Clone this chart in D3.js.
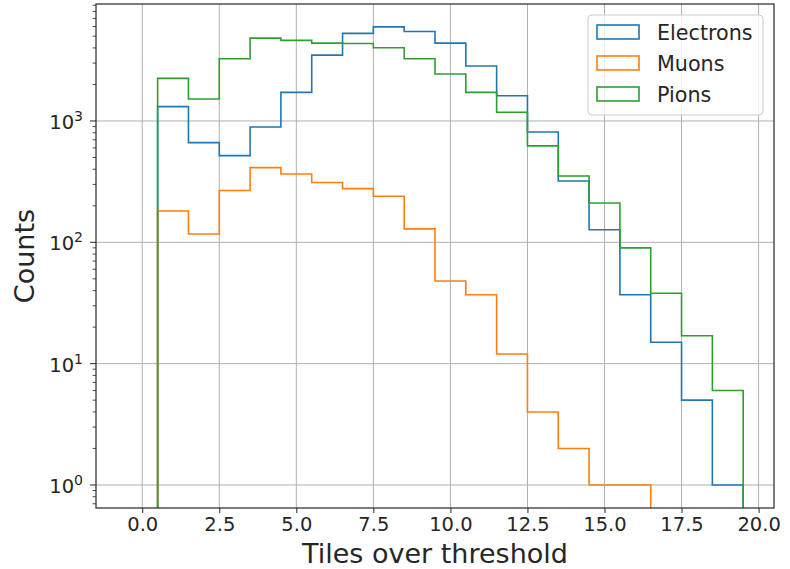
<!DOCTYPE html>
<html>
<head>
<meta charset="utf-8">
<script src="https://cdn.jsdelivr.net/npm/d3@7"></script>
<style>
  html, body { margin: 0; padding: 0; background: #fff; }
  text { font-family: "DejaVu Sans", sans-serif; fill: #262626; }
</style>
</head>
<body>
<svg id="chart" width="790" height="569"></svg>
<script>
// ---- data ----
const binEdges = [-0.5,0.5,1.5,2.5,3.5,4.5,5.5,6.5,7.5,8.5,9.5,10.5,11.5,12.5,13.5,14.5,15.5,16.5,17.5,18.5,19.5];
const seriesNames = ["Electrons", "Muons", "Pions"];
const electrons = [0,1312,663,518,893,1722,3490,5272,5970,5470,4385,2838,1615,811,320,127,37,15,5,1];
const muons     = [0,181,117,267,413,366,311,277,240,129,48,37,12,4,2,1,1,0,0,0];
const pions     = [0,2245,1516,3258,4818,4616,4385,4355,4011,3258,2438,1722,1179,623,352,211,90,38,17,6];
const xTicks = [0, 2.5, 5, 7.5, 10, 12.5, 15, 17.5, 20];
const yTicks = [1, 10, 100, 1000];
const colors = ["#1f77b4", "#ff7f0e", "#2ca02c"];

// ---- layout ----
const svg = d3.select("#chart");
const L = 96, R = 774, T = 4, B = 508;
const x = d3.scaleLinear().domain([-1.5, 20.5]).range([L, R]);
const y = d3.scaleLog().domain([0.646, 9208]).range([B, T]);

svg.append("defs").append("clipPath").attr("id", "clip")
  .append("rect").attr("x", L).attr("y", T).attr("width", R - L).attr("height", B - T);

// grid
const grid = svg.append("g");
xTicks.forEach(t => {
  grid.append("line").attr("x1", x(t)).attr("x2", x(t)).attr("y1", T).attr("y2", B)
    .attr("stroke", "#b0b0b0").attr("stroke-width", 1);
});
yTicks.forEach(t => {
  grid.append("line").attr("x1", L).attr("x2", R).attr("y1", y(t)).attr("y2", y(t))
    .attr("stroke", "#b0b0b0").attr("stroke-width", 1);
});

// histograms (step)
const yPos = v => v > 0 ? y(v) : B + 100;
function stepPoints(vals) {
  const pts = [[x(binEdges[0]), B + 100]];
  vals.forEach((v, i) => {
    pts.push([x(binEdges[i]), yPos(v)]);
    pts.push([x(binEdges[i + 1]), yPos(v)]);
  });
  pts.push([x(binEdges[binEdges.length - 1]), B + 100]);
  return pts;
}
const line = d3.line();
const plot = svg.append("g").attr("clip-path", "url(#clip)");
[electrons, muons, pions].forEach((vals, i) => {
  plot.append("path").attr("d", line(stepPoints(vals)))
    .attr("fill", "none").attr("stroke", colors[i]).attr("stroke-width", 1.6)
    .attr("stroke-linejoin", "miter");
});

// axes
const xAxis = d3.axisBottom(x).tickValues(xTicks).tickFormat(d3.format(".1f"))
  .tickSize(5).tickPadding(4);
const gx = svg.append("g").attr("transform", `translate(0,${B})`).call(xAxis);
gx.select(".domain").remove();
gx.selectAll(".tick line").attr("stroke", "#262626").attr("stroke-width", 1);
gx.selectAll(".tick text").style("font-size", "19.5px").style("font-family", "DejaVu Sans").attr("fill", "#262626");

// y axis major + minor ticks
const minor = [];
for (let e = -1; e <= 3; e++) for (let m = 2; m <= 9; m++) {
  const v = m * Math.pow(10, e);
  if (v >= 0.646 && v <= 9208) minor.push(v);
}
const gy = svg.append("g");
minor.forEach(v => {
  gy.append("line").attr("x1", L - 3.5).attr("x2", L).attr("y1", y(v)).attr("y2", y(v))
    .attr("stroke", "#262626").attr("stroke-width", 0.8);
});
yTicks.forEach(v => {
  gy.append("line").attr("x1", L - 6).attr("x2", L).attr("y1", y(v)).attr("y2", y(v))
    .attr("stroke", "#262626").attr("stroke-width", 1);
  const t = gy.append("text").attr("x", 83).attr("y", y(v) + 8).attr("text-anchor", "end");
  t.append("tspan").text("10").style("font-size", "19.5px");
  t.append("tspan").text(String(Math.round(Math.log10(v)))).style("font-size", "14px").attr("dy", -8);
});

// frame
svg.append("rect").attr("x", L).attr("y", T).attr("width", R - L).attr("height", B - T)
  .attr("fill", "none").attr("stroke", "#262626").attr("stroke-width", 1.2);

// axis labels
svg.append("text").attr("x", (L + R) / 2).attr("y", 563).attr("text-anchor", "middle")
  .style("font-size", "27px").text("Tiles over threshold");
svg.append("text").attr("transform", `translate(34,${(T + B) / 2}) rotate(-90)`)
  .attr("text-anchor", "middle").style("font-size", "27px").text("Counts");

// legend
const lg = svg.append("g");
lg.append("rect").attr("x", 588).attr("y", 15).attr("width", 175).attr("height", 100)
  .attr("rx", 4).attr("fill", "rgba(255,255,255,0.8)").attr("stroke", "#cccccc").attr("stroke-width", 1);
seriesNames.forEach((n, i) => {
  const cy = 32 + i * 31;
  lg.append("rect").attr("x", 597).attr("y", cy - 7).attr("width", 42).attr("height", 14)
    .attr("fill", "none").attr("stroke", colors[i]).attr("stroke-width", 1.6);
  lg.append("text").attr("x", 657).attr("y", cy + 7.5).style("font-size", "20.7px").text(n);
});
</script>
</body>
</html>
